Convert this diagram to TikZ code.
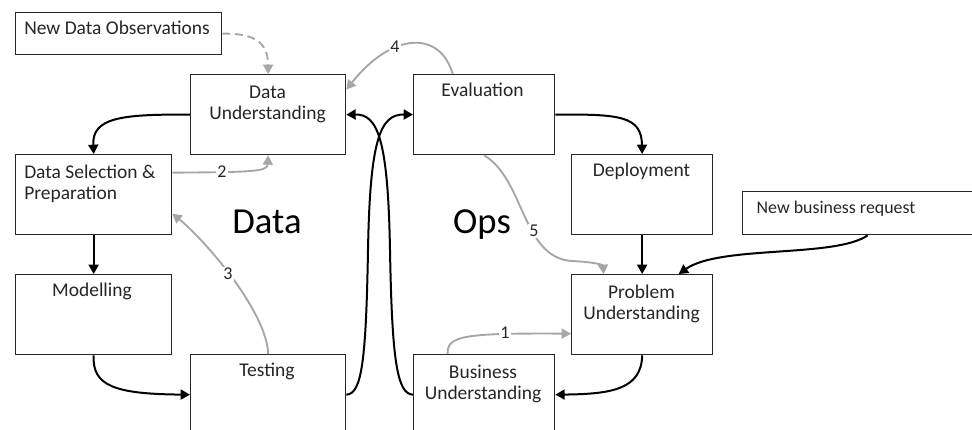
\documentclass[tikz,border=0pt]{standalone}
\usepackage{fontspec}
\setmainfont{Carlito}
\usetikzlibrary{arrows.meta}
\definecolor{loopgray}{HTML}{A6A6A6}
\definecolor{ink}{HTML}{262626}
\tikzset{
  box/.style={draw=ink, line width=1pt, fill=white, inner sep=0pt, anchor=north west},
  boxtext/.style={font=\fontsize{14.6}{15.75}\selectfont, align=center, anchor=base, inner sep=0pt, text=ink},
  lefttext/.style={boxtext, align=left, anchor=base west},
  bigtext/.style={font=\fontsize{27.5}{30}\selectfont, anchor=base, inner sep=0pt, text=black},
  tip/.style={-{Triangle[length=7pt,width=7.5pt]}},
  flow/.style={line width=1.5pt, draw=black, tip},
  feedback/.style={line width=1.4pt, draw=loopgray, tip},
  newdata/.style={feedback, dash pattern=on 6pt off 3.5pt},
  num/.style={fill=white, inner sep=0.8pt, font=\fontsize{13.5}{13.5}\selectfont, text=ink}
}
\begin{document}
\begin{tikzpicture}[x=0.75pt,y=-0.75pt]
\useasboundingbox (0,0) rectangle (972,429);
\clip (0,0) rectangle (972,429);

% stage boxes
\node[box, minimum width=154.5pt, minimum height=31.5pt] (ndo) at (15,12) {};
\node[box, minimum width=116.25pt, minimum height=60pt] (du) at (190,74) {};
\node[box, minimum width=105.75pt, minimum height=60pt] (ev) at (413,74) {};
\node[box, minimum width=117pt, minimum height=60pt] (dsp) at (15,154) {};
\node[box, minimum width=105.75pt, minimum height=60pt] (dep) at (571,154) {};
\node[box, minimum width=187.5pt, minimum height=32.25pt] (nbr) at (742,191) {};
\node[box, minimum width=117pt, minimum height=60pt] (mod) at (15,274) {};
\node[box, minimum width=105.75pt, minimum height=60pt] (pu) at (571,274) {};
\node[box, minimum width=116.25pt, minimum height=60pt] (te) at (190,354) {};
\node[box, minimum width=105.75pt, minimum height=60pt] (bu) at (413,354) {};

% box captions (two-line captions sit on the baseline of their last line)
\node[lefttext] (ndo-t) at (24,34) {New Data Observations};
\node[boxtext] (du-t) at (267.5,119) {Data\\Understanding};
\node[boxtext] (ev-t) at (482.5,96) {Evaluation};
\node[lefttext] (dsp-t) at (24,199) {Data Selection \&\\Preparation};
\node[boxtext] (dep-t) at (641.5,176) {Deployment};
\node[boxtext, font=\fontsize{13.4}{15}\selectfont] (nbr-t) at (836,213) {New business request};
\node[boxtext] (mod-t) at (92,296) {Modelling};
\node[boxtext] (pu-t) at (641.5,319) {Problem\\Understanding};
\node[boxtext] (te-t) at (267,376) {Testing};
\node[boxtext] (bu-t) at (483,399) {Business\\Understanding};

% side headings
\node[bigtext] (data-h) at (267,233) {Data};
\node[bigtext] (ops-h) at (482,233) {Ops};

% main cycle
\draw[flow] (du.west) .. controls (120,114) and (92,118) .. (dsp.north);
\draw[flow] (dsp.south) -- (mod.north);
\draw[flow] (mod.south) .. controls (92,386) and (115,394) .. (te.west);
\draw[flow] (te.east) .. controls (362,394) and (366,360) .. (368,250)
                      .. controls (370,140) and (380,114) .. (ev.west);
\draw[flow] (bu.west) .. controls (397,394) and (392,360) .. (390,250)
                      .. controls (388,140) and (378,114) .. (du.east);
\draw[flow] (ev.east) .. controls (620,114) and (641.5,116) .. (dep.north);
\draw[flow] (dep.south) -- (pu.north);
\draw[flow] (nbr.south) .. controls (835,258) and (720,245) .. ([xshift=27.4pt]pu.north);
\draw[flow] (pu.south) .. controls (641.5,390) and (610,394) .. (bu.east);

% feedback loops
\draw[newdata] (ndo.east) .. controls (258,33) and (268,45) .. (du.north);
\draw[feedback] ([yshift=16.5pt]dsp.east) .. controls (250,172) and (267.5,172) .. (du.south);
\draw[feedback] (te.north) .. controls (267,312) and (205,240) .. ([yshift=-14.25pt]dsp.east);
\draw[feedback] ([xshift=-23.6pt]ev.north) .. controls (440,30) and (392,32) .. ([yshift=18.75pt]du.east);
\draw[feedback] ([xshift=-27.4pt]bu.north) .. controls (447,336) and (462,333) .. ([yshift=-14.25pt]pu.west);
\draw[feedback] (ev.south) .. controls (525,180) and (522,258) .. (572,261)
                           .. controls (594,262) and (603,265) .. ([xshift=-28.9pt]pu.north);

% loop numbers
\node[num] (n1) at (505,333) {1};
\node[num] (n2) at (222,172) {2};
\node[num] (n3) at (228,274) {3};
\node[num] (n4) at (395,47) {4};
\node[num] (n5) at (534,231) {5};
\end{tikzpicture}
\end{document}
